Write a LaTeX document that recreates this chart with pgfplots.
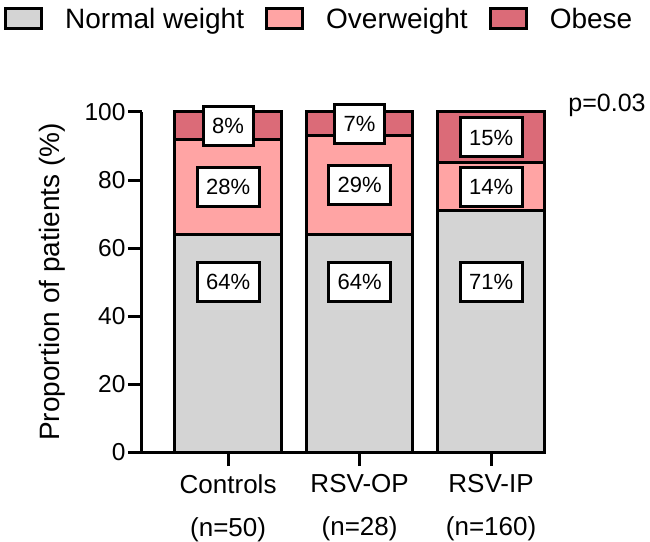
\documentclass[border=0pt]{standalone}
\usepackage{pgfplots}
\pgfplotsset{compat=1.18}
\usepackage{pgfplotstable}
\usepackage{fontspec}
\setmainfont{Liberation Sans}

\definecolor{normalc}{RGB}{212,212,212}
\definecolor{overc}{RGB}{255,164,164}
\definecolor{obesec}{RGB}{219,107,120}

% share of patients in each weight class (%); ny = height of the normal-weight box
\pgfplotstableread{
x normal over obese ny
0 64 28 8 50
1 64 29 7 50
2 71 14 15 50
}\bmidata

\newcommand\legfont{\fontsize{28}{32}\selectfont}
\newcommand\tickfont{\fontsize{24.5}{28}\selectfont}
\newcommand\catfont{\fontsize{26}{43}\selectfont}
\newcommand\boxfont{\fontsize{22}{25}\selectfont}

\pgfplotsset{
  common/.style={
    width=403pt, height=340pt, scale only axis,
    xmin=-0.655, xmax=2.41, ymin=0, ymax=100,
  },
}

\begin{document}
\begin{tikzpicture}
\begin{axis}[
  common,
  ybar stacked, bar width=0.81,
  axis x line*=bottom, axis y line*=left,
  axis line style={line width=3pt},
  tick align=outside, major tick length=14pt,
  tick style={line width=3pt, black},
  ytick={0,20,40,60,80,100},
  xtick={0,1,2},
  xticklabels={Controls\\(n=50), RSV-OP\\(n=28), RSV-IP\\(n=160)},
  xticklabel style={font=\catfont, align=center, yshift=-5pt},
  yticklabel style={font=\tickfont, xshift=1pt},
  /pgf/number format/assume math mode=true,
  ylabel={Proportion of patients (\%)},
  every axis y label/.style={at={(axis description cs:-0.223,0.5)}, rotate=90, anchor=center, font=\fontsize{28}{32}\selectfont},
  legend columns=3,
  legend style={
    at={(axis description cs:-0.3424,1.31)}, anchor=north west,
    draw=none, fill=none, font=\legfont, inner sep=0pt,
    nodes={inner sep=0pt, anchor=base west},
    /tikz/every odd column/.append style={column sep=22pt},
    /tikz/every even column/.append style={column sep=21pt},
  },
  legend image code/.code={\draw[#1, line width=3pt] (0pt,0pt) rectangle (36pt,20pt);},
  clip=false,
]
\addplot[fill=normalc, draw=black, line width=3pt] table[x=x, y=normal] {\bmidata};
\addlegendentry{Normal weight}
\addplot[fill=overc, draw=black, line width=3pt] table[x=x, y=over] {\bmidata};
\addlegendentry{Overweight}
\addplot[fill=obesec, draw=black, line width=3pt] table[x=x, y=obese] {\bmidata};
\addlegendentry{Obese}
\node[font=\fontsize{25}{28}\selectfont, anchor=center] at (rel axis cs:1.154,1.02) {p=0.03};
\end{axis}

% value boxes on each segment
\begin{axis}[
  common, hide axis, clip=false,
  nodes near coords={\pgfmathprintnumber[assume math mode=true]{\pgfplotspointmeta}\%},
  every node near coord/.append style={anchor=center, fill=white, draw=black,
    line width=3pt, inner xsep=9pt, inner ysep=0pt, minimum height=39pt, font=\boxfont},
]
\addplot[draw=none, mark=none, point meta=\thisrow{normal}]
  table[x=x, y=ny] {\bmidata};
\addplot[draw=none, mark=none, point meta=\thisrow{over}]
  table[x=x, y expr=\thisrow{normal}+\thisrow{over}/2] {\bmidata};
\addplot[draw=none, mark=none, point meta=\thisrow{obese}]
  table[x=x, y expr=\thisrow{normal}+\thisrow{over}+\thisrow{obese}/2] {\bmidata};
\end{axis}

\pgfresetboundingbox
\path[use as bounding box] (-142pt,-89pt) rectangle (508pt,452pt);
\end{tikzpicture}
\end{document}
